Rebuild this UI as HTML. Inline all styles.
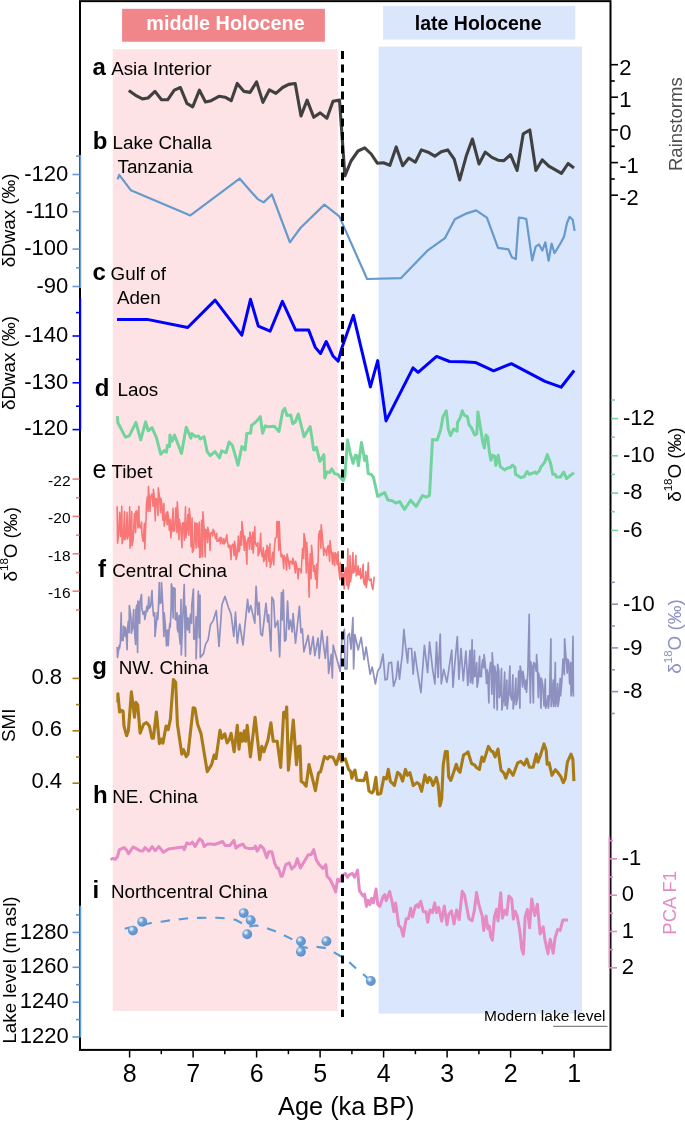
<!DOCTYPE html>
<html><head><meta charset="utf-8"><style>
html,body{margin:0;padding:0;background:#fff;}
svg{display:block;will-change:transform;}
</style></head><body>
<svg width="685" height="1121" viewBox="0 0 685 1121">
<rect x="112.7" y="49.2" width="225.1" height="961.8" fill="#fde3e6"/>
<rect x="378.7" y="46.6" width="203.2" height="967" fill="#dae6fb"/>
<rect x="122.1" y="8.8" width="202.8" height="32.9" fill="#f0868a"/>
<text x="225.5" y="30.1" font-family='"Liberation Sans", sans-serif' font-weight="bold" font-size="19.8" fill="#fff" text-anchor="middle">middle Holocene</text>
<rect x="383.1" y="6.0" width="192.2" height="33.6" fill="#dae6fb"/>
<text x="478.2" y="30" font-family='"Liberation Sans", sans-serif' font-weight="bold" font-size="19.5" fill="#000" text-anchor="middle">late Holocene</text>
<path d="M128.8,90.5 L136.6,95.9 L142.4,98.9 L148.0,98.0 L155.0,91.4 L161.5,99.8 L167.6,99.8 L174.3,90.1 L180.4,87.5 L186.9,103.3 L192.7,106.8 L199.4,90.1 L205.5,102.0 L211.1,100.7 L219.0,96.3 L225.1,97.2 L231.2,100.7 L237.2,83.4 L244.0,91.4 L250.1,92.4 L256.6,81.9 L262.9,102.4 L269.4,89.8 L275.9,93.3 L282.6,87.5 L288.7,84.4 L295.2,83.5 L301.0,115.9 L307.1,100.1 L313.7,117.3 L320.2,112.9 L326.9,118.2 L333.0,101.2 L339.5,100.1 L344.9,175.8 L351.0,161.0 L358.0,151.0 L364.7,147.8 L371.2,154.0 L377.3,163.2 L383.4,162.7 L389.9,165.3 L396.2,146.9 L402.7,165.7 L408.8,158.0 L415.3,162.2 L421.4,149.9 L428.1,152.2 L434.8,156.2 L441.2,151.7 L447.7,149.9 L454.2,159.1 L459.7,179.9 L466.3,155.8 L472.4,139.0 L479.0,163.9 L485.3,152.1 L491.9,157.4 L498.0,160.2 L503.9,160.7 L510.5,154.7 L517.1,170.5 L523.2,133.9 L529.8,130.0 L535.9,170.5 L542.3,159.8 L548.8,166.1 L555.0,169.6 L561.5,173.4 L568.1,163.5 L574.0,167.9" fill="none" stroke="#404040" stroke-width="3.1" stroke-linejoin="round"/>
<path d="M117.7,179.3 L119.2,174.9 L130.8,190.2 L190.4,215.4 L239.6,178.6 L250.0,190.4 L257.7,199.1 L263.6,202.4 L271.9,194.5 L289.9,242.3 L300.4,228.0 L324.4,204.6 L339.3,216.4 L367.1,279.0 L400.8,278.2 L427.4,250.7 L444.9,238.2 L454.8,219.2 L465.3,213.9 L476.1,210.4 L486.9,217.7 L498.0,247.8 L508.5,249.3 L511.8,257.2 L515.8,259.1 L518.8,217.7 L523.0,218.0 L526.3,219.1 L532.2,260.4 L535.7,246.6 L539.0,244.4 L542.3,250.6 L545.3,242.3 L548.6,260.7 L551.6,243.6 L554.5,253.2 L561.1,242.3 L564.0,236.8 L567.0,223.0 L569.6,216.8 L572.7,219.7 L574.6,230.9" fill="none" stroke="#6699cc" stroke-width="2.2" stroke-linejoin="round"/>
<path d="M117.0,319.4 L147.2,319.4 L187.7,327.5 L215.1,300.1 L241.8,335.2 L250.5,299.3 L258.3,326.1 L270.1,331.2 L282.4,301.4 L295.5,329.9 L308.7,330.1 L315.3,347.4 L320.5,353.5 L326.2,341.5 L332.8,355.7 L338.2,361.2 L341.5,348.9 L353.4,315.3 L370.4,386.9 L377.7,360.6 L386.0,420.9 L413.0,367.9 L418.1,372.3 L436.6,356.4 L449.6,361.5 L463.1,361.8 L475.3,362.4 L493.6,370.8 L511.3,363.7 L545.0,381.4 L561.1,387.2 L574.2,370.5" fill="none" stroke="#0000ff" stroke-width="3" stroke-linejoin="round"/>
<path d="M117.4,416.1 L117.9,422.8 L125.4,437.1 L129.3,435.9 L135.9,422.4 L140.7,439.9 L145.6,421.9 L148.2,430.7 L152.0,427.7 L156.4,437.7 L160.8,454.3 L164.3,450.5 L166.4,452.2 L167.5,445.2 L169.6,446.4 L169.9,435.0 L172.2,441.2 L174.5,435.0 L181.5,453.4 L186.2,427.2 L190.9,438.2 L192.0,433.6 L195.0,436.4 L198.5,435.9 L200.2,438.9 L204.1,436.8 L207.2,451.7 L210.2,455.7 L215.1,451.7 L219.5,457.8 L221.5,450.8 L226.1,452.6 L229.1,442.0 L232.3,445.2 L238.0,465.2 L241.9,446.4 L245.1,449.9 L246.8,433.6 L250.7,432.9 L251.5,425.4 L255.9,421.9 L260.3,416.6 L262.6,433.3 L265.2,425.9 L268.2,426.8 L274.3,426.3 L279.0,431.5 L282.7,410.9 L284.8,408.4 L286.9,415.4 L290.6,414.9 L292.7,423.7 L295.3,421.9 L298.3,414.0 L304.1,436.8 L310.2,426.6 L313.7,449.9 L316.4,447.3 L319.9,461.3 L323.9,454.7 L324.8,478.0 L327.2,471.8 L329.5,472.7 L331.7,468.8 L334.6,473.6 L337.9,474.5 L343.1,480.9 L344.9,476.2 L347.5,439.9 L350.1,452.6 L353.1,463.4 L355.4,455.2 L357.2,456.1 L358.4,465.7 L361.5,442.4 L364.7,460.4 L366.4,456.1 L368.2,473.6 L371.2,474.5 L373.4,477.1 L377.7,496.4 L384.7,492.5 L387.8,499.9 L392.2,500.7 L395.7,503.0 L399.7,501.6 L404.5,509.5 L410.6,500.2 L416.2,506.5 L422.5,495.5 L426.0,497.2 L429.5,495.5 L432.5,439.4 L437.2,439.9 L440.7,429.8 L443.0,416.6 L446.3,410.8 L448.3,429.0 L450.5,435.5 L453.6,429.0 L457.1,431.2 L457.5,422.4 L460.1,418.0 L462.3,410.8 L464.1,415.2 L467.4,416.7 L469.1,425.0 L471.1,427.2 L474.6,434.9 L476.8,433.8 L477.9,411.9 L482.7,441.5 L484.4,448.0 L486.0,434.9 L487.7,437.1 L489.3,451.3 L490.8,460.1 L492.6,455.3 L494.7,456.1 L495.8,465.5 L498.2,455.3 L500.2,466.6 L504.6,469.9 L507.9,467.7 L510.1,467.7 L512.3,465.1 L514.9,467.1 L515.5,474.3 L520.6,477.6 L524.3,476.5 L527.1,471.5 L529.3,474.3 L535.2,472.1 L536.3,473.6 L539.6,470.6 L540.7,467.1 L544.7,462.3 L547.3,454.6 L550.6,463.4 L552.8,474.3 L555.0,474.3 L556.5,477.1 L560.4,477.1 L563.7,472.1 L566.6,478.7 L570.3,475.4 L574.0,472.8" fill="none" stroke="#72d39c" stroke-width="3.0" stroke-linejoin="round"/>
<path d="M117.2,506.3 L117.5,543.1 L118.6,534.8 L119.7,512.4 L120.7,536.5 L121.8,506.3 L122.1,543.7 L123.3,537.7 L124.5,511.5 L124.8,539.8 L126.0,536.3 L127.1,512.2 L127.4,539.1 L128.6,534.5 L129.7,506.9 L130.0,548.3 L130.9,535.8 L131.7,511.5 L132.0,545.7 L133.2,539.1 L134.4,513.5 L135.6,532.6 L135.9,511.5 L136.9,510.8 L137.9,527.9 L138.9,506.3 L139.2,526.0 L140.4,528.1 L141.5,522.0 L141.8,533.9 L143.1,541.4 L144.4,523.4 L144.8,549.0 L146.1,516.8 L146.4,505.0 L147.3,497.0 L148.1,511.5 L148.4,486.6 L149.3,497.0 L150.1,511.5 L150.4,498.4 L151.8,494.0 L153.1,506.3 L153.4,489.2 L154.4,498.4 L155.3,520.7 L155.7,498.4 L156.8,499.1 L158.0,515.5 L158.3,487.9 L159.5,497.0 L160.6,512.8 L160.9,498.4 L161.9,504.4 L162.9,520.1 L163.9,503.6 L164.2,526.0 L165.2,520.2 L166.2,512.8 L167.2,524.7 L167.5,511.5 L168.5,517.4 L169.4,530.4 L170.4,519.4 L170.8,537.8 L171.9,528.0 L173.1,508.2 L173.4,531.2 L174.6,530.7 L175.8,507.7 L177.0,532.6 L177.3,501.7 L178.2,517.4 L179.0,539.8 L179.3,519.4 L180.7,527.6 L182.0,547.7 L182.3,523.4 L183.4,522.6 L184.4,540.1 L185.5,506.9 L185.8,537.8 L186.8,531.4 L187.8,514.6 L188.8,535.2 L189.2,508.2 L190.1,516.2 L191.1,546.6 L192.1,518.1 L192.4,552.3 L193.7,549.6 L194.9,522.6 L196.1,548.3 L196.4,523.4 L197.4,524.0 L198.3,547.2 L199.3,522.0 L199.7,557.5 L200.6,556.9 L201.6,520.3 L202.6,557.0 L202.9,511.7 L204.1,528.4 L205.2,557.0 L205.5,529.4 L206.5,530.1 L207.5,542.6 L207.8,527.4 L209.0,533.3 L210.1,550.4 L210.4,533.4 L211.6,532.4 L212.7,536.0 L213.0,529.4 L214.3,531.7 L215.5,538.7 L216.7,533.4 L217.0,541.2 L218.2,541.3 L219.4,538.0 L220.6,543.9 L220.9,537.3 L221.9,539.1 L222.9,543.8 L223.9,538.6 L224.2,543.9 L225.5,541.4 L226.8,534.7 L227.2,539.9 L228.5,547.5 L229.8,545.0 L231.1,559.6 L231.4,546.5 L232.8,544.2 L234.2,555.7 L234.5,541.2 L235.7,547.8 L236.0,559.6 L237.2,554.6 L238.4,536.0 L238.8,551.8 L239.7,548.9 L240.7,531.6 L241.6,545.2 L241.9,521.5 L243.1,532.8 L244.3,550.4 L244.7,536.0 L245.8,543.7 L246.9,564.2 L247.2,542.6 L248.4,537.8 L249.5,549.1 L249.8,532.0 L250.8,536.7 L251.8,549.4 L252.8,532.0 L253.2,553.1 L254.0,543.1 L254.8,526.8 L255.2,542.6 L256.5,545.9 L257.8,542.6 L258.2,555.7 L259.4,552.1 L260.7,533.4 L261.1,550.4 L262.2,556.7 L263.3,547.8 L263.7,561.6 L264.6,558.9 L265.6,550.5 L266.6,566.2 L267.0,545.2 L267.9,547.4 L268.9,561.3 L269.9,543.9 L270.2,567.5 L271.4,562.2 L272.6,552.4 L273.8,564.9 L274.2,550.4 L275.3,538.1 L276.5,537.3 L276.9,521.5 L277.8,521.8 L278.8,550.4 L279.2,521.5 L280.1,543.0 L281.1,557.0 L281.5,554.4 L282.6,555.3 L283.7,568.8 L284.1,555.7 L285.3,557.9 L286.6,570.1 L287.0,554.0 L288.2,559.2 L289.5,568.6 L289.9,561.3 L291.1,561.4 L292.4,564.2 L292.8,558.4 L294.0,562.7 L295.3,573.0 L295.7,561.3 L296.9,567.0 L298.2,578.8 L298.6,568.6 L299.9,569.0 L301.2,573.0 L301.6,564.2 L302.6,548.3 L303.6,558.4 L304.0,533.6 L305.1,539.2 L306.3,573.0 L306.7,542.3 L307.9,561.0 L309.2,597.1 L309.6,565.7 L310.3,553.9 L311.1,578.8 L311.5,545.3 L312.4,554.9 L313.4,571.2 L314.3,565.7 L314.7,571.5 L315.6,579.3 L316.5,564.2 L316.9,588.3 L318.2,558.4 L318.6,535.8 L319.7,530.7 L320.9,548.2 L321.2,524.8 L322.5,538.1 L323.8,555.5 L324.2,548.2 L325.4,550.1 L326.7,555.5 L327.1,548.2 L328.3,545.5 L329.6,561.3 L330.0,540.9 L331.3,551.9 L332.6,564.2 L333.0,552.6 L333.8,556.0 L334.7,565.7 L335.1,552.6 L336.1,553.9 L337.1,564.4 L338.1,551.8 L338.5,567.2 L339.9,579.6 L340.2,562.8 L341.2,568.6 L342.2,582.9 L343.2,573.5 L344.2,589.0 L344.6,573.0 L345.7,567.7 L346.8,585.3 L347.9,548.9 L348.2,589.0 L349.2,584.3 L350.1,555.5 L350.5,581.8 L351.7,573.5 L353.0,552.6 L353.4,573.0 L354.6,571.1 L355.9,555.5 L356.2,575.9 L357.2,573.9 L358.1,565.7 L358.5,574.5 L359.4,574.8 L360.3,568.6 L360.7,578.8 L361.9,577.5 L363.2,564.2 L363.6,581.8 L364.7,585.0 L365.8,571.5 L366.2,587.6 L367.2,580.3 L368.3,562.8 L368.7,578.8 L369.9,580.7 L371.2,578.8 L371.6,584.7 L372.9,589.5 L374.2,576.6" fill="none" stroke="#f87676" stroke-width="1.6" stroke-linejoin="round"/>
<path d="M117.2,647.0 L117.5,657.5 L118.4,651.4 L119.2,645.7 L119.5,648.3 L120.4,642.3 L121.2,612.8 L121.5,640.4 L123.1,640.4 L123.4,626.0 L124.3,629.5 L125.1,636.5 L125.4,627.3 L126.3,633.7 L127.1,649.6 L127.4,631.2 L128.3,621.4 L129.1,632.6 L129.4,605.6 L131.0,618.1 L131.3,633.2 L132.5,628.0 L133.7,609.6 L134.0,624.7 L135.6,644.4 L135.9,610.2 L136.8,605.2 L137.6,652.3 L137.9,601.0 L138.8,606.5 L139.6,623.4 L139.9,602.3 L141.5,594.5 L141.8,608.2 L143.1,614.3 L144.4,611.5 L144.8,619.4 L145.8,614.2 L146.8,606.3 L147.2,611.5 L148.0,609.3 L148.8,597.1 L149.2,608.2 L150.7,606.3 L151.0,602.3 L152.0,590.5 L152.3,599.7 L153.5,615.9 L154.7,612.8 L155.0,636.5 L156.2,624.6 L157.3,612.8 L157.7,619.4 L158.5,606.8 L159.3,582.6 L159.7,603.7 L161.2,602.3 L161.5,582.6 L162.7,603.2 L163.9,636.5 L164.2,612.8 L165.4,626.4 L166.5,645.7 L166.8,631.2 L167.8,629.9 L168.2,645.7 L169.0,632.3 L169.8,623.4 L170.2,627.3 L171.1,608.9 L171.4,583.9 L172.3,588.1 L173.1,618.1 L173.4,587.9 L175.0,588.5 L175.3,619.4 L176.2,620.0 L177.0,612.8 L177.3,628.6 L178.2,632.0 L179.0,615.5 L179.3,635.2 L180.2,643.9 L181.0,599.7 L181.3,654.9 L182.8,617.1 L184.2,584.6 L184.5,602.3 L185.5,656.2 L185.8,606.3 L186.7,619.8 L187.5,629.9 L187.8,618.1 L188.7,619.4 L189.5,632.6 L189.8,619.4 L190.7,614.0 L191.5,623.4 L191.8,605.0 L193.4,589.2 L193.8,639.1 L194.9,638.9 L196.1,616.8 L196.1,658.8 L197.0,635.2 L198.3,591.2 L199.2,637.8 L200.0,595.1 L200.3,657.5 L203.5,653.6 L205.5,644.4 L208.1,639.8 L210.5,624.7 L213.4,620.1 L216.3,610.5 L219.0,646.4 L221.9,605.0 L225.0,596.4 L228.5,607.6 L231.1,614.2 L233.8,636.5 L235.5,612.2 L237.3,643.1 L239.7,624.0 L243.0,645.0 L247.6,599.4 L248.9,612.2 L250.8,605.6 L254.8,623.1 L256.1,586.3 L257.8,614.8 L259.1,602.3 L260.7,633.9 L262.3,635.8 L266.0,603.4 L267.7,622.0 L268.6,614.8 L270.9,651.0 L271.9,597.1 L273.6,600.4 L275.1,627.3 L277.8,620.7 L279.7,656.9 L281.5,592.5 L282.2,620.0 L283.3,590.0 L284.6,641.2 L285.9,639.9 L287.6,601.2 L288.9,629.4 L290.5,620.2 L292.1,632.0 L293.1,613.7 L295.5,643.2 L299.4,606.4 L301.0,632.7 L302.3,628.8 L303.9,651.8 L308.2,635.3 L310.2,654.4 L313.1,636.6 L314.8,655.7 L318.1,638.0 L319.2,658.3 L321.8,630.7 L325.3,658.3 L327.3,636.6 L328.6,673.4 L331.2,654.4 L332.3,678.0 L333.2,645.2 L335.2,653.1 L338.5,664.9 L340.2,671.5 L341.8,641.2 L344.4,629.4 L345.0,668.8 L347.0,668.8 L347.7,636.0 L349.4,633.4 L351.0,649.1 L352.0,632.0 L352.9,617.6 L353.6,668.8 L354.9,634.7 L358.2,649.8 L361.2,637.3 L364.1,659.6 L366.1,647.2 L366.3,648.5 L370.1,674.2 L372.2,667.0 L375.4,683.9 L377.8,671.0 L380.3,667.0 L383.0,654.2 L385.1,679.9 L387.2,679.1 L388.8,663.0 L391.5,662.2 L393.6,686.3 L396.3,677.4 L397.9,661.4 L399.5,679.1 L400.7,667.8 L402.3,655.0 L403.9,629.3 L405.1,642.1 L407.6,663.0 L408.4,648.5 L411.6,648.5 L413.2,674.2 L414.8,651.8 L417.2,669.4 L420.9,692.7 L424.4,645.3 L427.6,672.6 L429.6,642.1 L432.4,667.8 L434.9,683.9 L436.5,642.1 L438.1,677.4 L440.2,634.1 L441.3,683.9 L443.7,669.4 L446.9,682.3 L449.3,666.2 L451.7,650.1 L453.0,687.1 L454.9,663.0 L457.3,636.5 L458.9,679.1 L461.0,648.5 L463.3,680.7 L465.9,651.0 L467.8,685.5 L470.0,650.3 L470.0,650.3 L470.4,682.7 L471.2,676.9 L472.1,639.8 L472.5,683.6 L473.4,673.2 L474.4,650.3 L474.8,676.6 L475.7,676.1 L476.7,662.6 L477.1,687.1 L478.3,680.3 L479.6,656.4 L480.0,676.6 L481.4,676.6 L481.8,666.1 L482.7,659.6 L483.7,667.8 L484.1,654.7 L485.3,665.1 L486.6,683.6 L487.0,669.6 L487.9,677.8 L488.9,702.9 L489.2,673.1 L490.6,662.7 L491.9,694.1 L492.2,652.9 L493.2,667.4 L494.2,708.1 L494.6,666.1 L495.9,673.2 L497.2,709.9 L497.6,664.3 L498.9,671.3 L499.2,697.6 L500.4,694.6 L501.5,668.7 L501.9,709.9 L503.3,700.6 L504.7,672.2 L505.1,705.5 L505.9,704.8 L506.8,680.1 L507.2,709.0 L508.5,696.0 L509.9,666.1 L510.2,694.1 L511.6,699.8 L512.9,674.8 L513.2,709.0 L514.6,699.0 L515.9,678.3 L516.2,704.6 L517.5,698.6 L518.7,671.0 L519.9,708.1 L520.2,666.1 L521.4,673.2 L522.6,687.1 L523.0,671.3 L524.0,678.8 L525.1,689.1 L526.1,680.1 L526.5,692.3 L527.8,673.6 L529.2,614.4 L529.6,662.6 L530.4,702.9 L530.8,661.7 L532.1,666.9 L533.4,702.9 L533.8,662.6 L535.0,664.2 L536.2,671.3 L536.6,654.7 L537.4,666.1 L538.3,697.6 L538.6,673.1 L539.8,678.4 L541.0,708.1 L541.4,678.3 L542.7,684.6 L544.0,705.7 L545.3,679.2 L545.6,708.1 L546.8,704.7 L548.0,695.8 L548.4,708.1 L549.6,695.3 L550.9,638.9 L551.2,706.4 L552.2,696.8 L553.2,680.1 L553.6,706.4 L554.4,697.7 L555.3,662.6 L555.6,706.4 L556.6,699.6 L557.6,683.6 L558.0,706.4 L559.1,699.3 L560.2,678.3 L560.6,695.8 L561.8,681.7 L563.0,659.0 L564.3,674.8 L564.6,638.9 L565.9,656.5 L567.2,673.1 L567.6,659.1 L568.6,660.9 L569.7,683.9 L570.7,662.6 L571.1,695.8 L572.0,688.4 L573.0,636.3 L573.4,695.8 L574.2,695.8" fill="none" stroke="#8e91c0" stroke-width="1.7" stroke-linejoin="round"/>
<path d="M117.9,702.4 L117.9,693.7 L119.6,712.0 L121.4,710.3 L123.1,711.2 L124.0,726.1 L126.6,735.7 L128.4,730.4 L131.4,691.9 L134.5,717.3 L135.9,702.4 L137.7,705.0 L140.1,733.1 L143.6,724.3 L146.4,722.6 L149.4,726.1 L152.0,738.3 L153.4,738.3 L156.4,712.0 L159.4,743.6 L161.7,739.2 L162.9,743.2 L166.1,726.1 L168.2,729.6 L170.4,719.1 L173.4,679.6 L175.7,682.3 L177.4,724.3 L181.8,754.1 L183.6,749.7 L186.2,756.7 L188.0,754.1 L193.2,707.7 L195.0,708.5 L197.6,724.3 L201.1,733.9 L207.2,771.6 L211.6,764.6 L214.2,755.0 L216.0,758.5 L220.0,730.4 L222.1,738.3 L224.8,733.9 L227.1,742.9 L229.4,739.4 L231.1,733.3 L234.1,751.7 L237.3,725.4 L239.0,749.1 L240.8,733.3 L242.5,741.2 L244.3,730.7 L245.7,741.2 L247.2,725.4 L250.4,756.9 L255.1,717.2 L259.7,759.6 L261.8,746.4 L263.9,751.7 L267.9,740.3 L270.9,722.8 L273.2,741.2 L277.2,741.2 L280.7,767.4 L283.7,712.3 L285.4,717.5 L286.7,707.0 L288.4,770.1 L293.3,720.1 L296.5,764.8 L298.4,746.5 L300.0,746.1 L301.2,781.4 L303.7,783.0 L306.1,786.2 L309.0,764.5 L315.4,790.7 L318.6,772.6 L320.5,771.8 L324.5,756.5 L327.7,758.9 L329.3,756.5 L333.0,757.3 L336.3,764.5 L339.5,754.1 L341.4,761.3 L345.4,758.9 L348.6,769.3 L350.7,771.8 L351.8,778.2 L353.9,771.8 L355.0,770.1 L356.6,780.1 L363.9,780.6 L366.3,772.6 L369.0,791.0 L371.9,793.0 L373.5,791.0 L375.9,777.4 L377.5,794.2 L380.7,793.4 L383.9,777.4 L386.4,779.0 L388.3,769.3 L390.4,781.4 L394.4,785.4 L397.6,772.3 L400.1,774.5 L402.6,781.1 L405.5,769.4 L407.4,775.3 L409.9,772.6 L413.2,785.5 L416.9,782.6 L419.1,784.0 L421.6,791.3 L424.9,775.0 L427.4,782.6 L429.3,777.4 L430.8,778.9 L433.0,785.5 L436.3,777.4 L438.1,784.7 L440.0,806.0 L441.7,798.6 L443.2,765.0 L445.4,751.6 L447.3,751.6 L448.7,776.7 L450.8,780.4 L453.4,773.1 L456.3,764.3 L458.1,770.1 L460.0,772.3 L463.6,754.8 L466.5,753.4 L468.0,751.9 L471.6,763.6 L474.6,765.0 L476.5,767.7 L479.4,769.4 L481.9,757.0 L483.8,761.4 L488.4,746.4 L491.4,751.2 L492.9,751.6 L495.1,757.0 L498.0,749.0 L501.0,770.1 L503.9,773.1 L505.8,778.2 L509.0,769.4 L513.1,775.3 L517.7,762.8 L520.7,761.4 L524.3,765.0 L526.8,759.2 L529.4,767.2 L533.1,767.2 L536.4,754.1 L537.9,762.1 L540.4,755.5 L544.0,743.9 L546.2,750.4 L547.2,764.3 L549.1,762.8 L552.0,775.3 L555.4,769.7 L558.3,773.1 L560.8,776.7 L563.3,782.6 L565.2,778.9 L567.4,762.1 L571.0,754.1 L572.9,759.2 L573.9,781.1" fill="none" stroke="#a87b16" stroke-width="3.1" stroke-linejoin="round"/>
<path d="M110.6,859.9 L112.7,858.4 L115.3,859.2 L117.4,856.8 L119.4,849.6 L124.1,847.6 L126.2,849.6 L128.6,853.7 L133.1,847.0 L136.4,848.6 L139.9,850.7 L142.9,851.1 L145.0,847.6 L149.0,851.1 L152.1,846.6 L155.2,850.7 L158.9,846.6 L163.4,852.3 L168.5,849.0 L182.8,847.0 L184.2,849.6 L186.9,842.9 L189.9,844.1 L192.4,842.1 L195.0,846.6 L199.7,838.8 L202.2,840.8 L204.2,846.6 L207.3,844.1 L211.4,844.1 L214.4,844.5 L217.5,843.5 L222.6,841.5 L225.1,845.5 L229.8,845.5 L233.9,840.4 L235.9,848.2 L239.1,845.5 L242.8,844.1 L245.2,847.6 L249.3,848.6 L253.4,848.6 L255.4,846.2 L257.1,851.1 L260.5,845.5 L263.6,848.6 L266.7,857.8 L268.7,851.7 L271.8,851.7 L274.9,863.9 L276.9,868.0 L278.3,868.0 L281.0,876.2 L282.4,876.2 L285.7,864.6 L289.2,862.9 L291.8,869.0 L295.3,865.4 L297.3,858.8 L300.4,868.0 L304.5,860.9 L308.2,854.7 L311.0,854.7 L313.7,849.6 L316.3,859.9 L319.2,864.6 L322.9,868.6 L325.9,864.6 L327.0,876.2 L330.0,879.3 L333.1,885.4 L335.6,891.9 L337.6,879.3 L339.6,881.3 L342.3,875.2 L345.4,873.5 L347.4,877.2 L349.4,874.8 L352.5,873.5 L354.6,877.2 L357.6,870.1 L359.4,890.7 L362.9,895.9 L364.6,894.2 L366.4,906.4 L368.1,900.3 L369.9,904.7 L371.6,898.5 L373.4,902.9 L376.0,888.9 L377.8,904.7 L379.9,906.4 L383.0,896.8 L384.8,894.7 L386.2,900.6 L389.7,891.5 L391.8,900.3 L393.9,911.7 L395.6,902.9 L398.8,925.7 L400.9,927.4 L403.2,936.2 L406.2,918.7 L408.4,918.7 L410.7,908.2 L412.5,916.9 L415.4,905.9 L417.2,904.7 L418.4,907.3 L420.7,901.2 L423.3,911.7 L426.0,911.7 L427.7,922.2 L430.0,909.9 L432.4,912.6 L434.7,902.9 L436.5,912.6 L438.7,907.3 L441.7,921.3 L444.3,905.9 L447.0,924.8 L448.7,914.3 L451.4,910.8 L454.0,924.0 L456.6,909.9 L459.2,919.6 L462.2,891.2 L464.5,895.0 L468.9,918.7 L472.1,920.8 L474.4,910.3 L476.5,892.4 L478.8,904.2 L482.3,916.4 L483.7,930.4 L486.1,915.9 L487.9,928.7 L489.3,926.1 L490.7,936.6 L492.4,940.1 L494.5,916.4 L496.6,909.4 L498.0,920.8 L500.7,892.8 L502.4,918.2 L504.7,910.3 L506.8,914.7 L508.9,895.9 L511.7,898.9 L513.4,919.1 L515.2,911.2 L517.3,916.4 L519.9,931.3 L521.7,948.8 L523.4,954.1 L525.2,916.4 L527.5,909.4 L529.6,927.8 L531.7,898.9 L534.8,915.5 L537.4,904.2 L540.1,933.9 L543.2,926.9 L545.0,940.1 L548.0,953.7 L550.2,939.2 L553.2,953.2 L555.0,938.3 L557.6,929.6 L560.2,930.4 L562.9,919.9 L565.5,919.9 L568.1,919.9" fill="none" stroke="#e58ac4" stroke-width="3.0" stroke-linejoin="round"/>
<path d="M124.7,928.7 L128.5,927.8 L146.6,924 L151.3,923 L161.4,921.7 L170.9,920.2 L180.4,919.2 L188.3,918.3 L198.2,917.9 L207.3,917.7 L216.8,917.7 L225.3,918.3 L235.4,919.8 L244.1,924.4 M249.2,926.5 L256.3,925.4 L266.2,927.9 L275.2,931.2 L283.9,935.2 L292.7,939.6 L300,946.5 L307.4,947.9 L316.6,946.9 L324.8,947.9 L334,952.4 L341.2,956.5 L350.4,963.2 L356.9,969.4 L364.7,975.5 L370.8,981" fill="none" stroke="#5b9bd5" stroke-width="2.1" stroke-dasharray="9.4 8.9" stroke-linejoin="round"/>
<defs><radialGradient id="ball" cx="0.36" cy="0.34" r="0.7"><stop offset="0" stop-color="#f4f8fd"/><stop offset="0.18" stop-color="#c4daf1"/><stop offset="0.42" stop-color="#6d9fd5"/><stop offset="1" stop-color="#5a8fcb"/></radialGradient></defs>
<circle cx="132.9" cy="930.6" r="4.95" fill="url(#ball)"/>
<circle cx="142.2" cy="921.7" r="4.95" fill="url(#ball)"/>
<circle cx="243.7" cy="913.1" r="4.95" fill="url(#ball)"/>
<circle cx="250.7" cy="920.3" r="4.95" fill="url(#ball)"/>
<circle cx="247.2" cy="934.2" r="4.95" fill="url(#ball)"/>
<circle cx="300.9" cy="941.3" r="4.95" fill="url(#ball)"/>
<circle cx="300.9" cy="951.7" r="4.95" fill="url(#ball)"/>
<circle cx="326.4" cy="941.3" r="4.95" fill="url(#ball)"/>
<circle cx="370.8" cy="981" r="4.95" fill="url(#ball)"/>
<line x1="342.5" y1="51" x2="342.5" y2="1017" stroke="#000" stroke-width="3" stroke-dasharray="8 5.5"/>
<rect x="80" y="1.15" width="530.5" height="1048.75" fill="none" stroke="#000" stroke-width="2"/>
<line x1="80.3" y1="155" x2="80.3" y2="288" stroke="#6b9bd2" stroke-width="1.8"/>
<line x1="80.3" y1="298" x2="80.3" y2="430.5" stroke="#0000ff" stroke-width="1.8"/>
<line x1="80.3" y1="905.7" x2="80.3" y2="1037.5" stroke="#5b9bd5" stroke-width="1.8"/>
<line x1="609.3" y1="836.3" x2="609.3" y2="967.8" stroke="#e58ac4" stroke-width="1.6"/>
<line x1="72.5" y1="174.5" x2="79.5" y2="174.5" stroke="#6b9bd2" stroke-width="1.6"/>
<line x1="72.5" y1="211.7" x2="79.5" y2="211.7" stroke="#6b9bd2" stroke-width="1.6"/>
<line x1="72.5" y1="249.1" x2="79.5" y2="249.1" stroke="#6b9bd2" stroke-width="1.6"/>
<line x1="72.5" y1="286.5" x2="79.5" y2="286.5" stroke="#6b9bd2" stroke-width="1.6"/>
<line x1="76" y1="156.1" x2="79.5" y2="156.1" stroke="#6b9bd2" stroke-width="1.6"/>
<line x1="76" y1="193.1" x2="79.5" y2="193.1" stroke="#6b9bd2" stroke-width="1.6"/>
<line x1="76" y1="230.4" x2="79.5" y2="230.4" stroke="#6b9bd2" stroke-width="1.6"/>
<line x1="76" y1="267.8" x2="79.5" y2="267.8" stroke="#6b9bd2" stroke-width="1.6"/>
<text x="68.2" y="180.8" font-family='"Liberation Sans", sans-serif' font-size="22" text-anchor="end">-120</text>
<text x="68.2" y="218.0" font-family='"Liberation Sans", sans-serif' font-size="22" text-anchor="end">-110</text>
<text x="68.2" y="255.4" font-family='"Liberation Sans", sans-serif' font-size="22" text-anchor="end">-100</text>
<text x="68.2" y="292.8" font-family='"Liberation Sans", sans-serif' font-size="22" text-anchor="end">-90</text>
<line x1="72.5" y1="336" x2="79.5" y2="336" stroke="#0000ff" stroke-width="1.6"/>
<line x1="72.5" y1="382.8" x2="79.5" y2="382.8" stroke="#0000ff" stroke-width="1.6"/>
<line x1="72.5" y1="429.6" x2="79.5" y2="429.6" stroke="#0000ff" stroke-width="1.6"/>
<line x1="76" y1="312.6" x2="79.5" y2="312.6" stroke="#0000ff" stroke-width="1.6"/>
<line x1="76" y1="359.4" x2="79.5" y2="359.4" stroke="#0000ff" stroke-width="1.6"/>
<line x1="76" y1="406.2" x2="79.5" y2="406.2" stroke="#0000ff" stroke-width="1.6"/>
<text x="68.2" y="341.8" font-family='"Liberation Sans", sans-serif' font-size="22" text-anchor="end">-140</text>
<text x="68.2" y="388.6" font-family='"Liberation Sans", sans-serif' font-size="22" text-anchor="end">-130</text>
<text x="68.2" y="435.4" font-family='"Liberation Sans", sans-serif' font-size="22" text-anchor="end">-120</text>
<line x1="72.5" y1="479.1" x2="79.5" y2="479.1" stroke="#f08080" stroke-width="1.6"/>
<line x1="72.5" y1="516.4" x2="79.5" y2="516.4" stroke="#f08080" stroke-width="1.6"/>
<line x1="72.5" y1="553.8" x2="79.5" y2="553.8" stroke="#f08080" stroke-width="1.6"/>
<line x1="72.5" y1="591.2" x2="79.5" y2="591.2" stroke="#f08080" stroke-width="1.6"/>
<line x1="76" y1="497.8" x2="79.5" y2="497.8" stroke="#f08080" stroke-width="1.6"/>
<line x1="76" y1="535.1" x2="79.5" y2="535.1" stroke="#f08080" stroke-width="1.6"/>
<line x1="76" y1="572.5" x2="79.5" y2="572.5" stroke="#f08080" stroke-width="1.6"/>
<line x1="76" y1="610" x2="79.5" y2="610" stroke="#f08080" stroke-width="1.6"/>
<text x="70.5" y="485.8" font-family='"Liberation Sans", sans-serif' font-size="15.5" text-anchor="end">-22</text>
<text x="70.5" y="523.1" font-family='"Liberation Sans", sans-serif' font-size="15.5" text-anchor="end">-20</text>
<text x="70.5" y="560.5" font-family='"Liberation Sans", sans-serif' font-size="15.5" text-anchor="end">-18</text>
<text x="70.5" y="597.9" font-family='"Liberation Sans", sans-serif' font-size="15.5" text-anchor="end">-16</text>
<line x1="72.5" y1="678.4" x2="79.5" y2="678.4" stroke="#a87b16" stroke-width="1.6"/>
<line x1="72.5" y1="730.8" x2="79.5" y2="730.8" stroke="#a87b16" stroke-width="1.6"/>
<line x1="72.5" y1="783.2" x2="79.5" y2="783.2" stroke="#a87b16" stroke-width="1.6"/>
<line x1="76" y1="704.6" x2="79.5" y2="704.6" stroke="#a87b16" stroke-width="1.6"/>
<line x1="76" y1="757" x2="79.5" y2="757" stroke="#a87b16" stroke-width="1.6"/>
<line x1="76" y1="809.4" x2="79.5" y2="809.4" stroke="#a87b16" stroke-width="1.6"/>
<text x="62" y="683.5" font-family='"Liberation Sans", sans-serif' font-size="22" text-anchor="end">0.8</text>
<text x="62" y="735.9" font-family='"Liberation Sans", sans-serif' font-size="22" text-anchor="end">0.6</text>
<text x="62" y="788.3" font-family='"Liberation Sans", sans-serif' font-size="22" text-anchor="end">0.4</text>
<line x1="72.5" y1="932.4" x2="79.5" y2="932.4" stroke="#5b9bd5" stroke-width="1.6"/>
<line x1="72.5" y1="967.3" x2="79.5" y2="967.3" stroke="#5b9bd5" stroke-width="1.6"/>
<line x1="72.5" y1="1002.2" x2="79.5" y2="1002.2" stroke="#5b9bd5" stroke-width="1.6"/>
<line x1="72.5" y1="1037" x2="79.5" y2="1037" stroke="#5b9bd5" stroke-width="1.6"/>
<line x1="76" y1="914.9" x2="79.5" y2="914.9" stroke="#5b9bd5" stroke-width="1.6"/>
<line x1="76" y1="949.8" x2="79.5" y2="949.8" stroke="#5b9bd5" stroke-width="1.6"/>
<line x1="76" y1="984.7" x2="79.5" y2="984.7" stroke="#5b9bd5" stroke-width="1.6"/>
<line x1="76" y1="1019.6" x2="79.5" y2="1019.6" stroke="#5b9bd5" stroke-width="1.6"/>
<text x="68.8" y="938.5" font-family='"Liberation Sans", sans-serif' font-size="22" text-anchor="end">1280</text>
<text x="68.8" y="973.4" font-family='"Liberation Sans", sans-serif' font-size="22" text-anchor="end">1260</text>
<text x="68.8" y="1008.3" font-family='"Liberation Sans", sans-serif' font-size="22" text-anchor="end">1240</text>
<text x="68.8" y="1043.1" font-family='"Liberation Sans", sans-serif' font-size="22" text-anchor="end">1220</text>
<line x1="611" y1="64.7" x2="618" y2="64.7" stroke="#000" stroke-width="1.6"/>
<line x1="611" y1="97.2" x2="618" y2="97.2" stroke="#000" stroke-width="1.6"/>
<line x1="611" y1="129.9" x2="618" y2="129.9" stroke="#000" stroke-width="1.6"/>
<line x1="611" y1="162.6" x2="618" y2="162.6" stroke="#000" stroke-width="1.6"/>
<line x1="611" y1="195.2" x2="618" y2="195.2" stroke="#000" stroke-width="1.6"/>
<line x1="611" y1="81" x2="614.8" y2="81" stroke="#000" stroke-width="1.6"/>
<line x1="611" y1="113.6" x2="614.8" y2="113.6" stroke="#000" stroke-width="1.6"/>
<line x1="611" y1="146.3" x2="614.8" y2="146.3" stroke="#000" stroke-width="1.6"/>
<line x1="611" y1="179" x2="614.8" y2="179" stroke="#000" stroke-width="1.6"/>
<text x="619.3" y="74.7" font-family='"Liberation Sans", sans-serif' font-size="22">2</text>
<text x="619.3" y="107.2" font-family='"Liberation Sans", sans-serif' font-size="22">1</text>
<text x="619.3" y="139.9" font-family='"Liberation Sans", sans-serif' font-size="22">0</text>
<text x="619.3" y="172.6" font-family='"Liberation Sans", sans-serif' font-size="22">-1</text>
<text x="619.3" y="205.2" font-family='"Liberation Sans", sans-serif' font-size="22">-2</text>
<line x1="611" y1="418.6" x2="618" y2="418.6" stroke="#72d39c" stroke-width="1.6"/>
<line x1="611" y1="455.8" x2="618" y2="455.8" stroke="#72d39c" stroke-width="1.6"/>
<line x1="611" y1="493.1" x2="618" y2="493.1" stroke="#72d39c" stroke-width="1.6"/>
<line x1="611" y1="530.4" x2="618" y2="530.4" stroke="#72d39c" stroke-width="1.6"/>
<line x1="611" y1="400" x2="614.8" y2="400" stroke="#72d39c" stroke-width="1.6"/>
<line x1="611" y1="437.2" x2="614.8" y2="437.2" stroke="#72d39c" stroke-width="1.6"/>
<line x1="611" y1="474.4" x2="614.8" y2="474.4" stroke="#72d39c" stroke-width="1.6"/>
<line x1="611" y1="511.7" x2="614.8" y2="511.7" stroke="#72d39c" stroke-width="1.6"/>
<text x="623" y="424.7" font-family='"Liberation Sans", sans-serif' font-size="22">-12</text>
<text x="623" y="461.9" font-family='"Liberation Sans", sans-serif' font-size="22">-10</text>
<text x="623" y="499.2" font-family='"Liberation Sans", sans-serif' font-size="22">-8</text>
<text x="623" y="536.5" font-family='"Liberation Sans", sans-serif' font-size="22">-6</text>
<line x1="611" y1="604.2" x2="618" y2="604.2" stroke="#8e91c0" stroke-width="1.6"/>
<line x1="611" y1="647.9" x2="618" y2="647.9" stroke="#8e91c0" stroke-width="1.6"/>
<line x1="611" y1="691.6" x2="618" y2="691.6" stroke="#8e91c0" stroke-width="1.6"/>
<line x1="611" y1="582.3" x2="614.8" y2="582.3" stroke="#8e91c0" stroke-width="1.6"/>
<line x1="611" y1="626" x2="614.8" y2="626" stroke="#8e91c0" stroke-width="1.6"/>
<line x1="611" y1="669.8" x2="614.8" y2="669.8" stroke="#8e91c0" stroke-width="1.6"/>
<line x1="611" y1="713.5" x2="614.8" y2="713.5" stroke="#8e91c0" stroke-width="1.6"/>
<text x="623" y="611.0" font-family='"Liberation Sans", sans-serif' font-size="22">-10</text>
<text x="623" y="654.7" font-family='"Liberation Sans", sans-serif' font-size="22">-9</text>
<text x="623" y="698.4" font-family='"Liberation Sans", sans-serif' font-size="22">-8</text>
<line x1="609.4" y1="858.8" x2="617" y2="858.8" stroke="#e58ac4" stroke-width="1.6"/>
<line x1="609.4" y1="895.2" x2="617" y2="895.2" stroke="#e58ac4" stroke-width="1.6"/>
<line x1="609.4" y1="931.5" x2="617" y2="931.5" stroke="#e58ac4" stroke-width="1.6"/>
<line x1="609.4" y1="967.8" x2="617" y2="967.8" stroke="#e58ac4" stroke-width="1.6"/>
<line x1="609.4" y1="840.6" x2="613" y2="840.6" stroke="#e58ac4" stroke-width="1.6"/>
<line x1="609.4" y1="877" x2="613" y2="877" stroke="#e58ac4" stroke-width="1.6"/>
<line x1="609.4" y1="913.3" x2="613" y2="913.3" stroke="#e58ac4" stroke-width="1.6"/>
<line x1="609.4" y1="949.6" x2="613" y2="949.6" stroke="#e58ac4" stroke-width="1.6"/>
<text x="621.7" y="865.0" font-family='"Liberation Sans", sans-serif' font-size="22">-1</text>
<text x="621.7" y="901.4" font-family='"Liberation Sans", sans-serif' font-size="22">0</text>
<text x="621.7" y="937.7" font-family='"Liberation Sans", sans-serif' font-size="22">1</text>
<text x="621.7" y="974.0" font-family='"Liberation Sans", sans-serif' font-size="22">2</text>
<line x1="574.1" y1="1050" x2="574.1" y2="1057.5" stroke="#000" stroke-width="1.5"/>
<text x="574.1" y="1082" font-family='"Liberation Sans", sans-serif' font-size="25" text-anchor="middle">1</text>
<line x1="510.6" y1="1050" x2="510.6" y2="1057.5" stroke="#000" stroke-width="1.5"/>
<text x="510.6" y="1082" font-family='"Liberation Sans", sans-serif' font-size="25" text-anchor="middle">2</text>
<line x1="447.1" y1="1050" x2="447.1" y2="1057.5" stroke="#000" stroke-width="1.5"/>
<text x="447.1" y="1082" font-family='"Liberation Sans", sans-serif' font-size="25" text-anchor="middle">3</text>
<line x1="383.6" y1="1050" x2="383.6" y2="1057.5" stroke="#000" stroke-width="1.5"/>
<text x="383.6" y="1082" font-family='"Liberation Sans", sans-serif' font-size="25" text-anchor="middle">4</text>
<line x1="320.1" y1="1050" x2="320.1" y2="1057.5" stroke="#000" stroke-width="1.5"/>
<text x="320.1" y="1082" font-family='"Liberation Sans", sans-serif' font-size="25" text-anchor="middle">5</text>
<line x1="256.6" y1="1050" x2="256.6" y2="1057.5" stroke="#000" stroke-width="1.5"/>
<text x="256.6" y="1082" font-family='"Liberation Sans", sans-serif' font-size="25" text-anchor="middle">6</text>
<line x1="193.1" y1="1050" x2="193.1" y2="1057.5" stroke="#000" stroke-width="1.5"/>
<text x="193.1" y="1082" font-family='"Liberation Sans", sans-serif' font-size="25" text-anchor="middle">7</text>
<line x1="129.6" y1="1050" x2="129.6" y2="1057.5" stroke="#000" stroke-width="1.5"/>
<text x="129.6" y="1082" font-family='"Liberation Sans", sans-serif' font-size="25" text-anchor="middle">8</text>
<line x1="542.4" y1="1050" x2="542.4" y2="1054.2" stroke="#000" stroke-width="1.5"/>
<line x1="478.9" y1="1050" x2="478.9" y2="1054.2" stroke="#000" stroke-width="1.5"/>
<line x1="415.4" y1="1050" x2="415.4" y2="1054.2" stroke="#000" stroke-width="1.5"/>
<line x1="351.9" y1="1050" x2="351.9" y2="1054.2" stroke="#000" stroke-width="1.5"/>
<line x1="288.4" y1="1050" x2="288.4" y2="1054.2" stroke="#000" stroke-width="1.5"/>
<line x1="224.8" y1="1050" x2="224.8" y2="1054.2" stroke="#000" stroke-width="1.5"/>
<line x1="161.3" y1="1050" x2="161.3" y2="1054.2" stroke="#000" stroke-width="1.5"/>
<text x="346.3" y="1115" font-family='"Liberation Sans", sans-serif' font-size="25.3" text-anchor="middle">Age (ka BP)</text>
<text x="92.5" y="74.7" font-family='"Liberation Sans", sans-serif' font-weight="bold" font-size="24">a</text>
<text x="111.2" y="74.7" font-family='"Liberation Sans", sans-serif' font-size="18.8">Asia Interior</text>
<text x="92.8" y="148.7" font-family='"Liberation Sans", sans-serif' font-weight="bold" font-size="24">b</text>
<text x="112.5" y="148.7" font-family='"Liberation Sans", sans-serif' font-size="18.8">Lake Challa</text>
<text x="117.5" y="172.7" font-family='"Liberation Sans", sans-serif' font-size="18.8">Tanzania</text>
<text x="92.5" y="279.8" font-family='"Liberation Sans", sans-serif' font-weight="bold" font-size="24">c</text>
<text x="110.6" y="279.8" font-family='"Liberation Sans", sans-serif' font-size="18.8">Gulf of</text>
<text x="116.9" y="303.9" font-family='"Liberation Sans", sans-serif' font-size="18.8">Aden</text>
<text x="94.8" y="395.5" font-family='"Liberation Sans", sans-serif' font-weight="bold" font-size="24">d</text>
<text x="117.5" y="395.5" font-family='"Liberation Sans", sans-serif' font-size="18.8">Laos</text>
<text x="92.4" y="477.8" font-family='"Liberation Sans", sans-serif' font-weight="normal" font-size="25">e</text>
<text x="111.4" y="477.6" font-family='"Liberation Sans", sans-serif' font-size="18.8">Tibet</text>
<text x="97.9" y="577.1" font-family='"Liberation Sans", sans-serif' font-weight="bold" font-size="24">f</text>
<text x="112.2" y="577.1" font-family='"Liberation Sans", sans-serif' font-size="18.8">Central China</text>
<text x="92.3" y="674.2" font-family='"Liberation Sans", sans-serif' font-weight="bold" font-size="24">g</text>
<text x="118.7" y="674.2" font-family='"Liberation Sans", sans-serif' font-size="18.8">NW. China</text>
<text x="93.0" y="803.1" font-family='"Liberation Sans", sans-serif' font-weight="bold" font-size="24">h</text>
<text x="112.2" y="803.1" font-family='"Liberation Sans", sans-serif' font-size="18.8">NE. China</text>
<text x="92.5" y="897.5" font-family='"Liberation Sans", sans-serif' font-weight="bold" font-size="24">i</text>
<text x="110.9" y="897.5" font-family='"Liberation Sans", sans-serif' font-size="18.8">Northcentral China</text>
<text x="484" y="1021.2" font-family='"Liberation Sans", sans-serif' font-size="15.5">Modern lake level</text>
<line x1="553.2" y1="1026.3" x2="607.5" y2="1026.3" stroke="#666" stroke-width="1"/>
<text transform="translate(15.3,220.4) rotate(-90)" font-family='"Liberation Sans", sans-serif' font-size="18.8" fill="#000" text-anchor="middle">δDwax (‰)</text>
<text transform="translate(15.3,363) rotate(-90)" font-family='"Liberation Sans", sans-serif' font-size="18.8" fill="#000" text-anchor="middle">δDwax (‰)</text>
<text transform="translate(17.4,544.3) rotate(-90)" font-family='"Liberation Sans", sans-serif' font-size="18.8" fill="#000" text-anchor="middle">δ<tspan font-size="11.5" dy="-9.3">18</tspan><tspan dy="9.3">O (‰)</tspan></text>
<text transform="translate(15.2,725.3) rotate(-90)" font-family='"Liberation Sans", sans-serif' font-size="18.8" fill="#000" text-anchor="middle">SMI</text>
<text transform="translate(15.5,970) rotate(-90)" font-family='"Liberation Sans", sans-serif' font-size="18.8" fill="#000" text-anchor="middle">Lake level (m asl)</text>
<text transform="translate(682.0,124.2) rotate(-90)" font-family='"Liberation Sans", sans-serif' font-size="18.55" fill="#4d4d4d" text-anchor="middle">Rainstorms</text>
<text transform="translate(680.9,464.6) rotate(-90)" font-family='"Liberation Sans", sans-serif' font-size="18.8" fill="#000" text-anchor="middle">δ<tspan font-size="11.5" dy="-9.3">18</tspan><tspan dy="9.3">O (‰)</tspan></text>
<text transform="translate(680.9,636.5) rotate(-90)" font-family='"Liberation Sans", sans-serif' font-size="18.8" fill="#8d90c2" text-anchor="middle">δ<tspan font-size="11.5" dy="-9.3">18</tspan><tspan dy="9.3">O (‰)</tspan></text>
<text transform="translate(675.6,902.8) rotate(-90)" font-family='"Liberation Sans", sans-serif' font-size="18.5" fill="#e58ac4" text-anchor="middle">PCA F1</text>
</svg>
</body></html>
